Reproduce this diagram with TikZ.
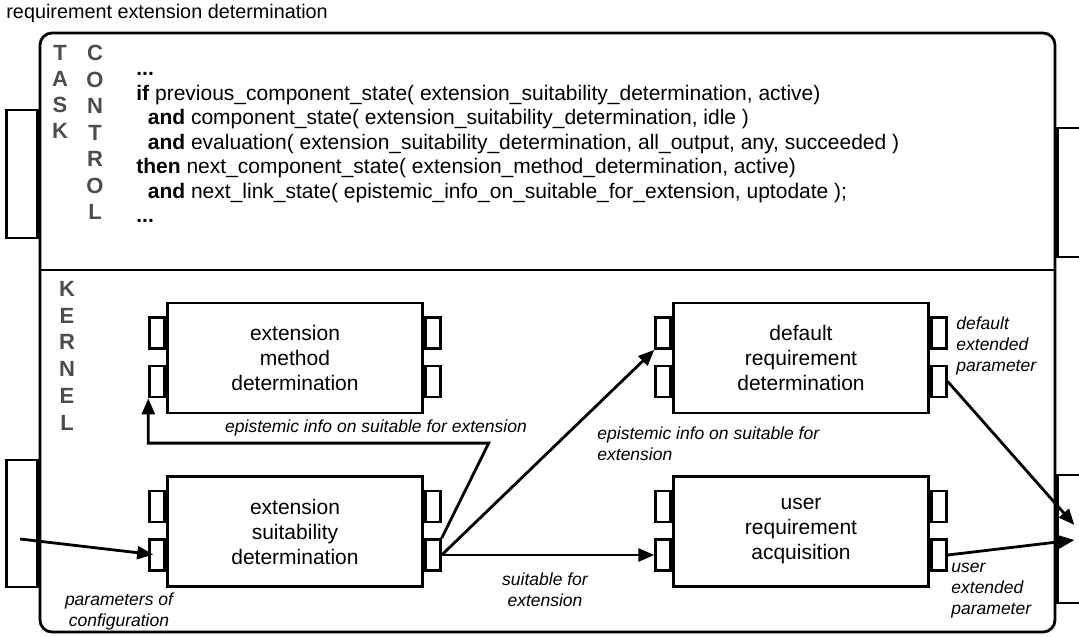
\documentclass[tikz,border=0pt]{standalone}
\usepackage{fontspec}
\setmainfont{Liberation Sans}
\usetikzlibrary{positioning}
\usetikzlibrary{calc}
\usetikzlibrary{arrows.meta}

\newcommand{\portsof}[1]{%
  \node[port, anchor=east] (#1L1) at ($(#1.west)+(0,25)$) {};
  \node[port, anchor=east] (#1L2) at ($(#1.west)+(0,-23.5)$) {};
  \node[port, anchor=west] (#1R1) at ($(#1.east)+(0,25)$) {};
  \node[port, anchor=west] (#1R2) at ($(#1.east)+(0,-23.5)$) {};
}

\begin{document}
\begin{tikzpicture}[x=1pt, y=1pt, -{Triangle[length=16pt,width=13pt]}, node distance=173.5 and 506, on grid,
    line width=2.8pt,
    comp/.style={rectangle, draw, minimum width=255, minimum height=110, inner sep=0, align=center,
      font=\fontsize{21}{25}\selectfont},
    port/.style={rectangle, draw, minimum width=15, minimum height=31, inner sep=0},
    bigport/.style={rectangle, draw, minimum width=31, inner sep=0},
    letters/.style={inner sep=0, align=center, text=black!70, font=\fontsize{22}{26}\selectfont\bfseries},
    lbl/.style={inner sep=0, font=\fontsize{17.5}{21}\selectfont\itshape}]
    \useasboundingbox (0,0) rectangle (1079,-637);
    \node[anchor=base west, inner sep=0, font=\fontsize{19.8}{23}\selectfont] (title) at (5,-19) {requirement extension determination};
    \node[draw, rounded corners=12, minimum width=1015, minimum height=599, inner sep=0] (outer) at (547.5,-332.5) {};
    \draw[-] ($(outer.west)+(0,62.5)$) -- ($(outer.east)+(0,62.5)$);
    \node[bigport, minimum height=128, anchor=east] (tcin) at ($(outer.west)+(0,158.5)$) {};
    \node[bigport, minimum height=127, anchor=east] (kin) at ($(outer.west)+(0,-191)$) {};
    \node[bigport, minimum height=129, anchor=west] (tcout) at ($(outer.east)+(0,140)$) {};
    \node[bigport, minimum height=128, anchor=west] (kout) at ($(outer.east)+(0,-206.5)$) {};

    \node[letters, anchor=north] (task) at (60,-44) {T\\A\\S\\K};
    \node[letters, anchor=north, font=\fontsize{22}{26.5}\selectfont\bfseries] (control) at (95,-44) {C\\O\\N\\T\\R\\O\\L};
    \node[letters, anchor=north, font=\fontsize{22}{26.7}\selectfont\bfseries] (kernel) at (67,-280) {K\\E\\R\\N\\E\\L};
    \node[anchor=north west, inner sep=0, align=left, font=\fontsize{21}{24.5}\selectfont] (rule) at (135,-57.35) {%
      \strut\textbf{...}\\
      \textbf{if} previous\_component\_state( extension\_suitability\_determination, active)\\
      \hspace*{11.5pt}\textbf{and} component\_state( extension\_suitability\_determination, idle )\\
      \hspace*{11.5pt}\textbf{and} evaluation( extension\_suitability\_determination, all\_output, any, succeeded )\\
      \textbf{then} next\_component\_state( extension\_method\_determination, active)\\
      \hspace*{11.5pt}\textbf{and} next\_link\_state( epistemic\_info\_on\_suitable\_for\_extension, uptodate );\\
      \textbf{...}};

    \node[comp] (emd) at (295,-358) {extension\\method\\determination};
    \node[comp] (esd) [below = of emd] {extension\\suitability\\determination};
    \node[comp] (drd) [right = of emd] {default\\requirement\\determination};
    \node[comp] (ura) [below = of drd] {user\\requirement\\acquisition};
    \portsof{emd}
    \portsof{esd}
    \portsof{drd}
    \portsof{ura}

    \coordinate (cfg) at ($(kin.center)+(-1.5,-15.5)$);
    \coordinate (dep) at ($(kout.west)+(18,14)$);
    \coordinate (uep) at ($(kout.west)+(18,-1)$);
    \draw[shorten >=4pt] (cfg) -- (esdL2.center);
    \draw (esdR2.east) -- (uraL2.west);
    \draw (esdR2.east) -- (drdL1.south west);
    \draw (esdR2.north east) -- ++(47,95) -| (emdL2.south west);
    \draw (drdR2.east) -- (dep);
    \draw (uraR2.east) -- (uep);

    \node[lbl, anchor=base] (l1) at (376,-432) {epistemic info on suitable for extension};
    \node[lbl, anchor=north west, align=left] (l2) at (596,-423.3) {\strut epistemic info on suitable for\\extension};
    \node[lbl, anchor=north, align=center] (l3) at (545,-569.3) {\strut suitable for\\extension};
    \node[lbl, anchor=north, align=center] (l4) at (119,-589.3) {\strut parameters of\\configuration};
    \node[lbl, anchor=north west, align=left] (l5) at (955,-313.3) {\strut default\\extended\\parameter};
    \node[lbl, anchor=north west, align=left] (l6) at (950,-556.3) {\strut user\\extended\\parameter};
\end{tikzpicture}
\end{document}
